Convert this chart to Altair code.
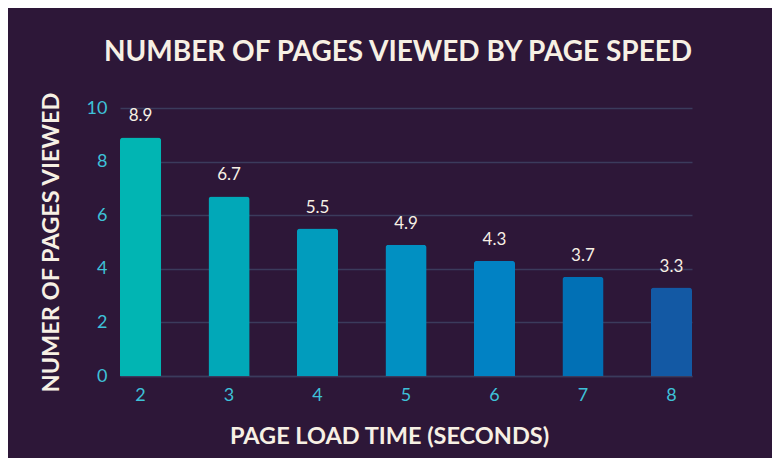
import altair as alt
import pandas as pd

load_time = ["2", "3", "4", "5", "6", "7", "8"]
pages_viewed = [8.9, 6.7, 5.5, 4.9, 4.3, 3.7, 3.3]
bar_colors = ["#01B5B3", "#01A8B8", "#019CBD", "#0190C2", "#0182C4", "#0170B5", "#1359A4"]
y_ticks = [0, 2, 4, 6, 8, 10]

df = pd.DataFrame({"time": load_time, "pages": pages_viewed,
                   "label": [f"{v:.1f}" for v in pages_viewed]})

BG = "#2D1738"
CREAM = "#F7F0E4"
CYAN = "#3EC1D8"
GRID = "#3B3B5C"

base = alt.Chart(df).encode(
    x=alt.X("time:O", sort=load_time,
            scale=alt.Scale(paddingInner=0.535, paddingOuter=0),
            axis=alt.Axis(title="PAGE LOAD TIME (SECONDS)", labelAngle=0,
                          labelColor=CYAN, labelFont="Lato", labelFontSize=18,
                          labelPadding=10, ticks=False, domain=True,
                          domainColor=GRID, domainWidth=1.5,
                          titleColor=CREAM, titleFont="Lato", titleFontSize=23.5,
                          titleFontWeight="bold", titlePadding=20,
                          titleX=269, titleAlign="center")),
)

bars = base.mark_bar(cornerRadiusTopLeft=3, cornerRadiusTopRight=3).encode(
    y=alt.Y("pages:Q", scale=alt.Scale(domain=[0, 10]),
            axis=alt.Axis(title="NUMER OF PAGES VIEWED", values=y_ticks,
                          labelColor=CYAN, labelFont="Lato", labelFontSize=18,
                          labelPadding=13, ticks=False, domain=False,
                          grid=True, gridColor=GRID, gridWidth=1.5,
                          titleColor=CREAM, titleFont="Lato", titleFontSize=23.5,
                          titleFontWeight="bold", titlePadding=23)),
    color=alt.Color("time:O", sort=load_time,
                    scale=alt.Scale(domain=load_time, range=bar_colors),
                    legend=None),
)

labels = base.mark_text(font="Lato", fontSize=17, color=CREAM,
                        baseline="alphabetic", dy=-16).encode(
    y=alt.Y("pages:Q"),
    text="label:N",
)

chart = (bars + labels).properties(
    width=572, height=268,
    background=BG,
    padding={"left": 112, "top": 100, "right": 80, "bottom": 82},
    autosize=alt.AutoSizeParams(type="none"),
    title=alt.TitleParams("NUMBER OF PAGES VIEWED BY PAGE SPEED",
                          font="Lato", fontSize=28, fontWeight="bold",
                          color=CREAM, anchor="middle", offset=24, dx=-8),
).configure_view(stroke=None)

chart.save("out.html", embed_options={"renderer": "svg", "actions": False})
